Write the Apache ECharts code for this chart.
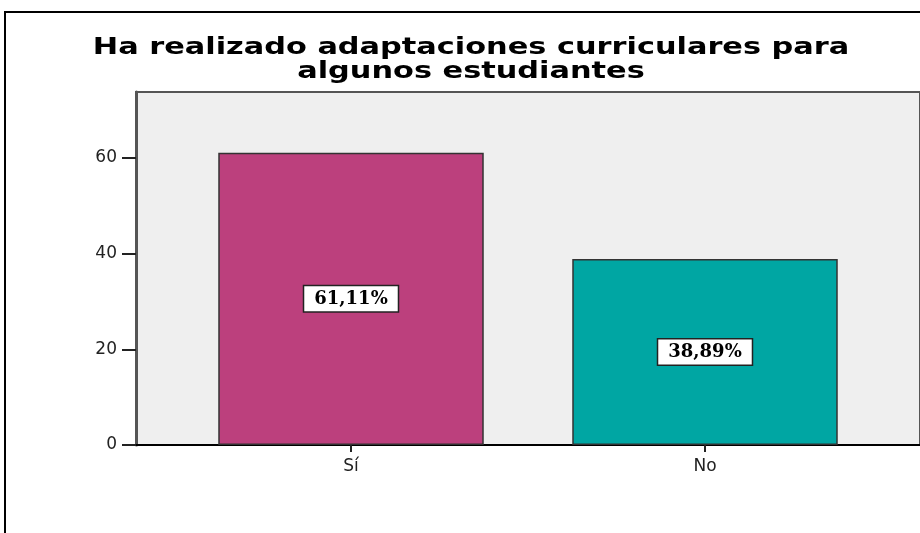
<!DOCTYPE html>
<html>
<head>
<meta charset="utf-8">
<script src="https://cdn.jsdelivr.net/npm/echarts@6/dist/echarts.min.js"></script>
<style>
  html, body { margin: 0; padding: 0; background: #fff; }
  #main { width: 920px; height: 533px; }
</style>
</head>
<body>
<div id="main"></div>
<script>
var titleText = 'Ha realizado adaptaciones curriculares para\nalgunos estudiantes';
var categories = ['Sí', 'No'];
var values = [61.11, 38.89];
var barColors = ['#BC407D', '#00A6A3'];
var yTicks = [0, 20, 40, 60];

var myChart = echarts.init(document.getElementById('main'));

var option = {
    backgroundColor: '#fff',
    animation: false,
    graphic: [
        {
            type: 'rect',
            shape: { x: 5, y: 12, width: 1000, height: 600 },
            style: { fill: 'none', stroke: '#000', lineWidth: 2 },
            z: -1
        },
        // title, stretched horizontally like the original
        {
            type: 'text',
            x: 471,
            y: 36,
            scaleX: 1.32,
            style: {
                text: titleText,
                fontFamily: 'DejaVu Sans',
                fontSize: 23,
                fontWeight: 'bold',
                lineHeight: 24,
                fill: '#000',
                align: 'center',
                verticalAlign: 'top'
            }
        }
    ],
    grid: [
        // plot frame with grey background
        { left: 136, right: 0, top: 92, bottom: 88, show: true,
          backgroundColor: '#EFEFEF', borderColor: '#555', borderWidth: 2 },
        // bars
        { left: 174, right: 38, top: 92, bottom: 88 }
    ],
    xAxis: [
        {
            gridIndex: 0, type: 'value', min: 0, max: 1,
            axisLine: { show: true, lineStyle: { color: '#000', width: 2 } },
            axisTick: { show: false }, axisLabel: { show: false },
            splitLine: { show: false }
        },
        {
            gridIndex: 1, type: 'category', data: categories,
            axisLine: { show: false },
            axisTick: { show: true, alignWithLabel: true, length: 7,
                        lineStyle: { color: '#222', width: 2 } },
            axisLabel: { color: '#222', fontFamily: 'DejaVu Sans',
                         fontSize: 17, margin: 13 }
        }
    ],
    yAxis: [
        {
            gridIndex: 0, type: 'value', min: 0, max: 73.8,
            axisLine: { show: true, lineStyle: { color: '#555', width: 3 } },
            axisTick: { show: true, length: 14, customValues: yTicks,
                        lineStyle: { color: '#222', width: 2 } },
            axisLabel: {
                color: '#222', fontFamily: 'DejaVu Sans', fontSize: 17, margin: 19,
                customValues: yTicks
            },
            splitLine: { show: false }
        },
        {
            gridIndex: 1, type: 'value', min: 0, max: 73.8, show: false
        }
    ],
    series: [
        {
            type: 'bar',
            xAxisIndex: 1,
            yAxisIndex: 1,
            barCategoryGap: '25%',
            data: values.map(function (v, i) {
                return {
                    value: v,
                    itemStyle: { color: barColors[i], borderColor: '#333', borderWidth: 1.5 }
                };
            }),
            label: {
                show: true,
                position: 'inside',
                formatter: function (p) {
                    return p.value.toFixed(2).replace('.', ',') + '%';
                },
                fontFamily: 'DejaVu Serif',
                fontWeight: 'bold',
                fontSize: 18,
                color: '#000',
                backgroundColor: '#fff',
                borderColor: '#222',
                borderWidth: 1.5,
                padding: [4, 10, 3, 10]
            }
        }
    ]
};

myChart.setOption(option);
</script>
</body>
</html>
